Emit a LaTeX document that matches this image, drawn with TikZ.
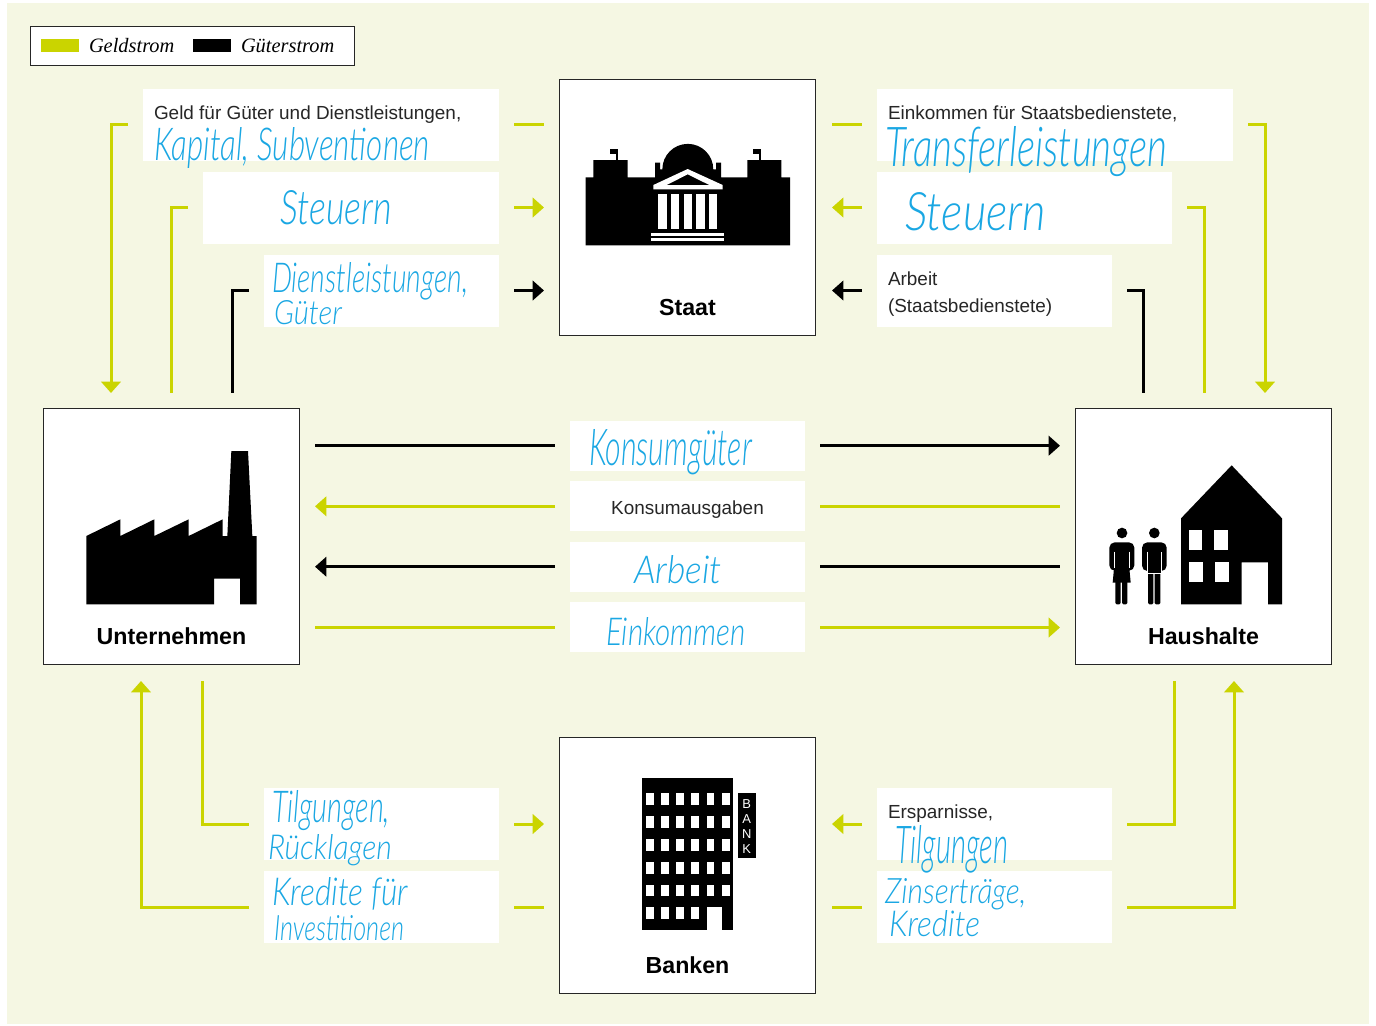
\documentclass[tikz,border=0pt]{standalone}
\usepackage{fontspec}
\usepackage{graphicx}
\usetikzlibrary{arrows.meta}
\setmainfont{Liberation Sans}
\newfontfamily\legendfont{Liberation Serif}
\newfontfamily\handfont{Lato Light Italic}
\definecolor{paper}{HTML}{F5F7E3}
\definecolor{geldc}{HTML}{CAD400}
\definecolor{handc}{HTML}{1AA7E3}
\newlength\pxu
\setlength\pxu{.75pt}
\newcommand\wb[5]{\node[wbox,minimum width=#4\pxu,minimum height=#5\pxu] (#1) at (#2,#3) {};}
\newcommand\hw[6]{\node[hand] (#1) at (#2,#3) {\resizebox{#4\pxu}{#5\pxu}{\handfont #6}};}
\tikzset{
  x=.75pt,y=-.75pt,
  >={Triangle[length=8.5pt,width=14.5pt]},
  wbox/.style={fill=white,draw=none,inner sep=0,outer sep=0,anchor=north west},
  mainbox/.style={fill=white,draw=black!85,line width=.75pt,inner sep=0,outer sep=0,minimum width=256\pxu,minimum height=256\pxu,anchor=north west},
  hand/.style={inner sep=0,outer sep=0,anchor=north west,text=handc},
  geld/.style={draw=geldc,line width=2.25pt},
  gut/.style={draw=black,line width=2.25pt},
  txt/.style={inner sep=0,outer sep=0,anchor=base west,font=\fontsize{14.2}{16}\selectfont,text=black!85},
  title/.style={inner sep=0,outer sep=0,anchor=base,font=\fontsize{17.4}{19}\selectfont\bfseries},
  legendtxt/.style={inner sep=0,outer sep=0,anchor=base west,font=\legendfont\itshape\fontsize{15.3}{17}\selectfont},
  zoomin/.style={shift={#1},x=.25pt,y=-.25pt},
  icon/.style={fill=black,draw=none},
  hole/.style={fill=white,draw=none},
  signl/.style={inner sep=0,outer sep=0,text=white,font=\fontsize{9.7}{10}\selectfont}
}
\begin{document}
\begin{tikzpicture}
\useasboundingbox (0,0) rectangle (1376,1025);
\fill[paper] (7,3) rectangle (1369,1024);
% legend
\node[wbox,draw=black!85,line width=.75pt,minimum width=324\pxu,minimum height=39\pxu] (legend) at (30,26.5) {};
\fill[geldc] (41,39) rectangle (79,52);
\fill[black] (193,39) rectangle (231,52);
\node[legendtxt] (lg) at (89,52) {Geldstrom};
\node[legendtxt] (lb) at (241,52) {Güterstrom};
% main boxes
\node[mainbox] (staat) at (559.5,79.5) {};
\node[mainbox] (unt) at (43.5,408.5) {};
\node[mainbox] (haus) at (1075.5,408.5) {};
\node[mainbox] (bank) at (559.5,737.5) {};
\node[title] (tstaat) at (687.5,315) {Staat};
\node[title] (tunt) at (171.5,644) {Unternehmen};
\node[title] (thaus) at (1203.5,644) {Haushalte};
\node[title] (tbank) at (687.5,973) {Banken};
% Staat icon
\begin{scope}[zoomin={(560,80)}]
\fill[icon] (77,496) -- (77,292) -- (100,292) -- (100,240) -- (203,240) -- (203,292) -- (285,292) -- (285,248) -- (300,248) -- (300,268) -- (307,268) arc[start angle=180,end angle=0,radius=19.1pt] -- (468,268) -- (468,248) -- (483,248) -- (483,292) -- (562,292) -- (562,240) -- (664,240) -- (664,292) -- (690,292) -- (690,496) -- cycle;
\fill[icon] (167,240) rectangle (173,215);
\fill[icon] (150,207) rectangle (173,222);
\fill[icon] (597,240) rectangle (603,215);
\fill[icon] (579,207) rectangle (602,222);
\fill[hole,even odd rule] (280,315) -- (383,267) -- (488,315) -- (488,328) -- (280,328) -- cycle (320,315) -- (383,283) -- (448,315) -- cycle;
\foreach \c in {295,333,371,409,447} \fill[hole] (\c,343) rectangle (\c+25,446);
\fill[hole] (273,459) rectangle (493,469);
\fill[hole] (273,474) rectangle (493,484);
\end{scope}
% factory icon
\begin{scope}[zoomin={(40,405)}]
\fill[icon] (139,393) -- (241,343) -- (241,393) -- (343,343) -- (343,393) -- (446,343) -- (446,393) -- (548,343) -- (548,393) -- (562,393) -- (574,138) -- (624,138) -- (637,393) -- (650,393) -- (650,598) -- (600,598) -- (600,521) -- (522,521) -- (522,598) -- (139,598) -- cycle;
\end{scope}
% house icon
\begin{scope}[zoomin={(1070,405)}]
\fill[icon] (333,340) -- (485,181) -- (636,340) -- (636,598) -- (594,598) -- (594,472) -- (515,472) -- (515,598) -- (333,598) -- cycle;
\fill[hole] (357,376) rectangle (396,435);
\fill[hole] (433,376) rectangle (473,435);
\fill[hole] (358,472) rectangle (398,531);
\fill[hole] (436,472) rectangle (476,531);
% woman
\fill[icon] (156,384) circle[radius=4pt];
\fill[icon,rounded corners=4pt] (118,412) rectangle (193,497);
\fill[icon] (132,490) -- (128,533) -- (182,533) -- (178,490) -- cycle;
\fill[icon,rounded corners=1pt] (136,525) rectangle (152,598);
\fill[icon,rounded corners=1pt] (156,525) rectangle (172,598);
\draw[white,line width=.4pt] (132,440) -- (132,490) (179,440) -- (179,490);
% man
\fill[icon] (253,384) circle[radius=4pt];
\fill[icon,rounded corners=4pt] (216,412) rectangle (290,498);
\fill[icon] (233,490) rectangle (273,505);
\fill[icon,rounded corners=1pt] (234,500) rectangle (250,598);
\fill[icon,rounded corners=1pt] (254,500) rectangle (271,598);
\draw[white,line width=.4pt] (232,440) -- (232,504) -- (273,504) -- (273,440);
\end{scope}
% bank icon
\begin{scope}[zoomin={(555,735)}]
\fill[icon] (262,130) rectangle (535,585);
\foreach \c in {273,318,363,409,455,501}
  \foreach \r in {175,244,312,381,449}
    \fill[hole] (\c,\r) rectangle (\c+23,\r+35);
\foreach \c in {273,318,363,409}
  \fill[hole] (\c,517) rectangle (\c+23,552);
\fill[hole] (455,517) rectangle (500,585);
\fill[icon] (549,174) rectangle (603,369);
\end{scope}
\node[signl] (sb) at (746.7,803.7) {B};
\node[signl] (sa) at (746.7,819) {A};
\node[signl] (sn) at (746.7,834) {N};
\node[signl] (sk) at (746.7,849) {K};
% white label boxes
\wb{l1}{143}{89}{356}{72}
\wb{l2}{203}{172}{296}{72}
\wb{l3}{264}{255}{235}{72}
\wb{r1}{877}{89}{356}{72}
\wb{r2}{877}{172}{295}{72}
\wb{r3}{877}{255}{235}{72}
\wb{m1}{570}{421}{235}{50}
\wb{m2}{570}{481}{235}{50}
\wb{m3}{570}{542}{235}{50}
\wb{m4}{570}{602}{235}{50}
\wb{bl1}{264}{788}{235}{72}
\wb{bl2}{264}{871}{235}{72}
\wb{br1}{877}{788}{235}{72}
\wb{br2}{877}{871}{235}{72}
% printed text
\node[txt] (t1) at (154,119) {Geld für Güter und Dienstleistungen,};
\node[txt] (t2) at (888,119) {Einkommen für Staatsbedienstete,};
\node[txt] (t3) at (888,285) {Arbeit};
\node[txt] (t4) at (888,312) {(Staatsbedienstete)};
\node[txt,anchor=base] (t5) at (687.5,514) {Konsumausgaben};
\node[txt] (t6) at (888,818) {Ersparnisse,};
% handwriting
\hw{h1}{154}{127}{276}{33}{Kapital, Subventionen}
\hw{h2}{280}{190}{112}{34}{Steuern}
\hw{h3}{272}{262}{196}{30}{Dienstleistungen,}
\hw{h4}{274}{300}{68}{24}{Güter}
\hw{h5}{885}{126}{282}{40}{Transferleistungen}
\hw{h6}{905}{192}{141}{38}{Steuern}
\hw{h7}{589}{429}{163}{36}{Konsumgüter}
\hw{h8}{634}{555}{88}{28}{Arbeit}
\hw{h9}{606}{617}{140}{28}{Einkommen}
\hw{h10}{272}{790}{118}{32}{Tilgungen,}
\hw{h11}{268}{834}{124}{25}{Rücklagen}
\hw{h12}{272}{877}{136}{28}{Kredite für}
\hw{h13}{274}{915}{130}{25}{Investitionen}
\hw{h14}{895}{825}{113}{38}{Tilgungen}
\hw{h15}{885}{878}{141}{25}{Zinserträge,}
\hw{h16}{889}{910}{91}{26}{Kredite}
% connector ends
\foreach \n/\x/\y in {a1/128/124,a2/111/393,a3/514/124,a4/544/124,
  b1/188/207.5,b2/171.5/393,b3/514/207.5,b4/544/207.5,
  c1/249/290.5,c2/232.5/393,c3/514/290.5,c4/544/290.5,
  d1/832/124,d2/862/124,d3/1248/124,d4/1265/393,
  e1/862/207.5,e2/832/207.5,e3/1187/207.5,e4/1204/393,
  f1/862/290.5,f2/832/290.5,f3/1127/290.5,f4/1143.5/393,
  g1/315/445.7,g2/555/445.7,g3/820/445.7,g4/1060/445.7,
  i1/555/506.3,i2/315/506.3,i3/820/506.3,i4/1060/506.3,
  j1/555/566.7,j2/315/566.7,j3/820/566.7,j4/1060/566.7,
  k1/315/627.5,k2/555/627.5,k3/820/627.5,k4/1060/627.5,
  n1/202/681,n2/249/824,n3/514/824,n4/544/824,
  o1/249/907,o2/141/681,o3/514/907,o4/544/907,
  p1/862/824,p2/832/824,p3/1127/824,p4/1174/681,
  q1/832/907,q2/862/907,q3/1127/907,q4/1234/681}
  {\coordinate (\n) at (\x,\y);}
% connectors
\draw[geld,->] (a1) -| (a2);
\draw[geld] (a3) -- (a4);
\draw[geld] (b1) -| (b2);
\draw[geld,->] (b3) -- (b4);
\draw[gut] (c1) -| (c2);
\draw[gut,->] (c3) -- (c4);
\draw[geld] (d1) -- (d2);
\draw[geld,->] (d3) -| (d4);
\draw[geld,->] (e1) -- (e2);
\draw[geld] (e3) -| (e4);
\draw[gut,->] (f1) -- (f2);
\draw[gut] (f3) -| (f4);
\draw[gut] (g1) -- (g2);
\draw[gut,->] (g3) -- (g4);
\draw[geld,->] (i1) -- (i2);
\draw[geld] (i3) -- (i4);
\draw[gut,->] (j1) -- (j2);
\draw[gut] (j3) -- (j4);
\draw[geld] (k1) -- (k2);
\draw[geld,->] (k3) -- (k4);
\draw[geld] (n1) |- (n2);
\draw[geld,->] (n3) -- (n4);
\draw[geld,->] (o1) -| (o2);
\draw[geld] (o3) -- (o4);
\draw[geld,->] (p1) -- (p2);
\draw[geld] (p3) -| (p4);
\draw[geld] (q1) -- (q2);
\draw[geld,->] (q3) -| (q4);
\end{tikzpicture}
\end{document}
